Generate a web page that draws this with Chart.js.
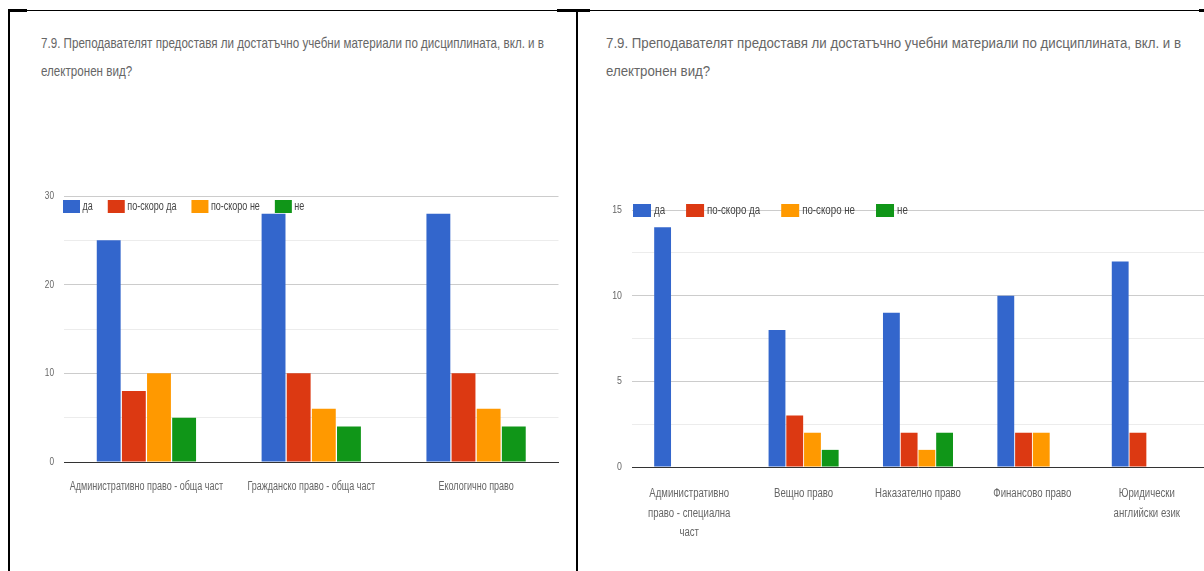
<!DOCTYPE html>
<html>
<head>
<meta charset="utf-8">
<script src="https://cdn.jsdelivr.net/npm/chart.js@4.4.1/dist/chart.umd.min.js"></script>
<style>
  html, body { margin: 0; padding: 0; background: #fff; }
  body { width: 1204px; height: 571px; position: relative; overflow: hidden; }
  .hline { position: absolute; left: 8px; right: 0; top: 10px; height: 1px; background: #000; }
  .seg { position: absolute; top: 9px; height: 3px; background: #000; }
  .vline { position: absolute; top: 10px; bottom: 0; width: 2px; background: #000; }
  .title { position: absolute; color: #666; font-family: 'Liberation Sans', Arial, sans-serif;
           font-size: 15px; line-height: 28px; white-space: nowrap; transform-origin: 0 0; }
  .box { position: absolute; top: 180px; height: 391px; }
</style>
</head>
<body>
<div class="hline"></div>
<div class="seg" style="left:8px;width:19px"></div>
<div class="seg" style="left:557px;width:33px"></div>
<div class="seg" style="left:1199px;width:5px"></div>
<div class="vline" style="left:8px"></div>
<div class="vline" style="left:576px"></div>

<div class="title" style="left:41px;top:29px" data-w="503"><span class="l1">7.9. Преподавателят предоставя ли достатъчно учебни материали по дисциплината, вкл. и в</span><br>електронен вид?</div>
<div class="title" style="left:606px;top:29px" data-w="575"><span class="l1">7.9. Преподавателят предоставя ли достатъчно учебни материали по дисциплината, вкл. и в</span><br>електронен вид?</div>

<div class="box" style="left:10px;width:566px"><canvas id="leftChart"></canvas></div>
<div class="box" style="left:578px;width:626px"><canvas id="rightChart"></canvas></div>

<script>
const SERIES_NAMES = ['да', 'по-скоро да', 'по-скоро не', 'не'];
const SERIES_COLORS = ['#3366cc', '#dc3912', '#ff9900', '#109618'];

const LEFT_CATEGORIES = ['Административно право - обща част', 'Гражданско право - обща част', 'Екологично право'];
const LEFT_DA = [25, 28, 28];
const LEFT_RATHER_YES = [8, 10, 10];
const LEFT_RATHER_NO = [10, 6, 6];
const LEFT_NO = [5, 4, 4];

const RIGHT_CATEGORIES = [['Административно', 'право - специална', 'част'], 'Вещно право', 'Наказателно право', 'Финансово право', ['Юридически', 'английски език']];
const RIGHT_DA = [14, 8, 9, 10, 12];
const RIGHT_RATHER_YES = [0, 3, 2, 2, 2];
const RIGHT_RATHER_NO = [0, 2, 1, 2, 0];
const RIGHT_NO = [0, 1, 2, 0, 0];

const FONT = "'Liberation Sans', Arial, sans-serif";

// squeeze the titles to the width they have in the picture
document.querySelectorAll('.title').forEach(el => {
  const w = el.querySelector('.l1').getBoundingClientRect().width;
  el.style.transform = `scaleX(${el.dataset.w / w})`;
});

// narrow text: the source screenshot is squashed sideways
const squeezeText = (ctx, text, x, y, sx) => {
  ctx.save();
  ctx.translate(x, y);
  ctx.scale(sx, 1);
  ctx.fillText(text, 0, 0);
  ctx.restore();
};

// legend over the plot, plus the axis labels, drawn squeezed
const narrowText = {
  id: 'narrowText',
  afterDraw(chart, args, o) {
    const { ctx, chartArea, scales } = chart;
    ctx.save();
    ctx.textBaseline = 'middle';

    // legend
    ctx.font = `12px ${FONT}`;
    let x = chartArea.left + o.legendDx;
    const y = chartArea.top + o.legendDy;
    chart.data.datasets.forEach(ds => {
      ctx.fillStyle = ds.backgroundColor;
      ctx.fillRect(x, y, o.bw, 13);
      x += o.bw + o.tg;
      ctx.fillStyle = '#444';
      ctx.textAlign = 'left';
      squeezeText(ctx, ds.label, x, y + 7, o.lsx);
      x += ctx.measureText(ds.label).width * o.lsx + o.ig;
    });

    // y tick labels
    ctx.font = `11px ${FONT}`;
    ctx.fillStyle = '#666';
    ctx.textAlign = 'right';
    scales.y.ticks.forEach(t => {
      if (t.value % o.major !== 0) return;
      squeezeText(ctx, String(t.value), chartArea.left - o.yPad, scales.y.getPixelForValue(t.value), o.sx);
    });

    // x category labels
    ctx.font = `12px ${FONT}`;
    ctx.textAlign = 'center';
    chart.data.labels.forEach((lab, i) => {
      const lines = Array.isArray(lab) ? lab : [lab];
      const px = scales.x.getPixelForTick(i);
      lines.forEach((ln, k) => {
        squeezeText(ctx, ln, px, scales.x.top + o.xPad + o.lh * (k + 0.5), o.sx);
      });
    });
    ctx.restore();
  }
};

const makeChart = (id, labels, series, cfg) => {
  const ctx = document.getElementById(id);
  return new Chart(ctx, {
    type: 'bar',
    data: {
      labels: labels,
      datasets: series.map((data, i) => ({
        label: SERIES_NAMES[i],
        data: data,
        backgroundColor: SERIES_COLORS[i],
        borderWidth: 0,
        categoryPercentage: cfg.catPct,
        barPercentage: 0.95
      }))
    },
    options: {
      responsive: true,
      maintainAspectRatio: false,
      animation: false,
      layout: { padding: cfg.padding },
      plugins: {
        legend: { display: false },
        tooltip: { enabled: false },
        narrowText: cfg.text
      },
      scales: {
        x: {
          grid: { display: false, drawTicks: false },
          border: { display: true, color: '#333', width: 1 },
          ticks: { display: false },
          afterFit: (scale) => { scale.height = cfg.xHeight; }
        },
        y: {
          min: 0,
          max: cfg.max,
          grid: {
            drawTicks: false,
            color: (c) => (c.tick && c.tick.value % cfg.major === 0) ? '#cccccc' : '#ececec'
          },
          border: { display: false },
          ticks: { stepSize: cfg.step, display: false },
          afterFit: (scale) => { scale.width = cfg.yWidth; }
        }
      }
    },
    plugins: [narrowText]
  });
};

makeChart('leftChart', LEFT_CATEGORIES, [LEFT_DA, LEFT_RATHER_YES, LEFT_RATHER_NO, LEFT_NO], {
  catPct: 0.61, max: 30, step: 5, major: 10,
  padding: { top: 16, left: 0, right: 17.5, bottom: 9 },
  xHeight: 100, yWidth: 54,
  text: { legendDx: -1, legendDy: 4, bw: 17, tg: 2.5, ig: 15, lsx: 0.75, sx: 0.75, major: 10, yPad: 10, xPad: 15, lh: 19.5 }
});

makeChart('rightChart', RIGHT_CATEGORIES, [RIGHT_DA, RIGHT_RATHER_YES, RIGHT_RATHER_NO, RIGHT_NO], {
  catPct: 0.62, max: 15, step: 2.5, major: 5,
  padding: { top: 30, left: 0, right: 0, bottom: 4 },
  xHeight: 100, yWidth: 54,
  text: { legendDx: 1, legendDy: -6, bw: 18, tg: 3, ig: 21, lsx: 0.81, sx: 0.8, major: 5, yPad: 10, xPad: 17, lh: 19.5 }
});
</script>
</body>
</html>
